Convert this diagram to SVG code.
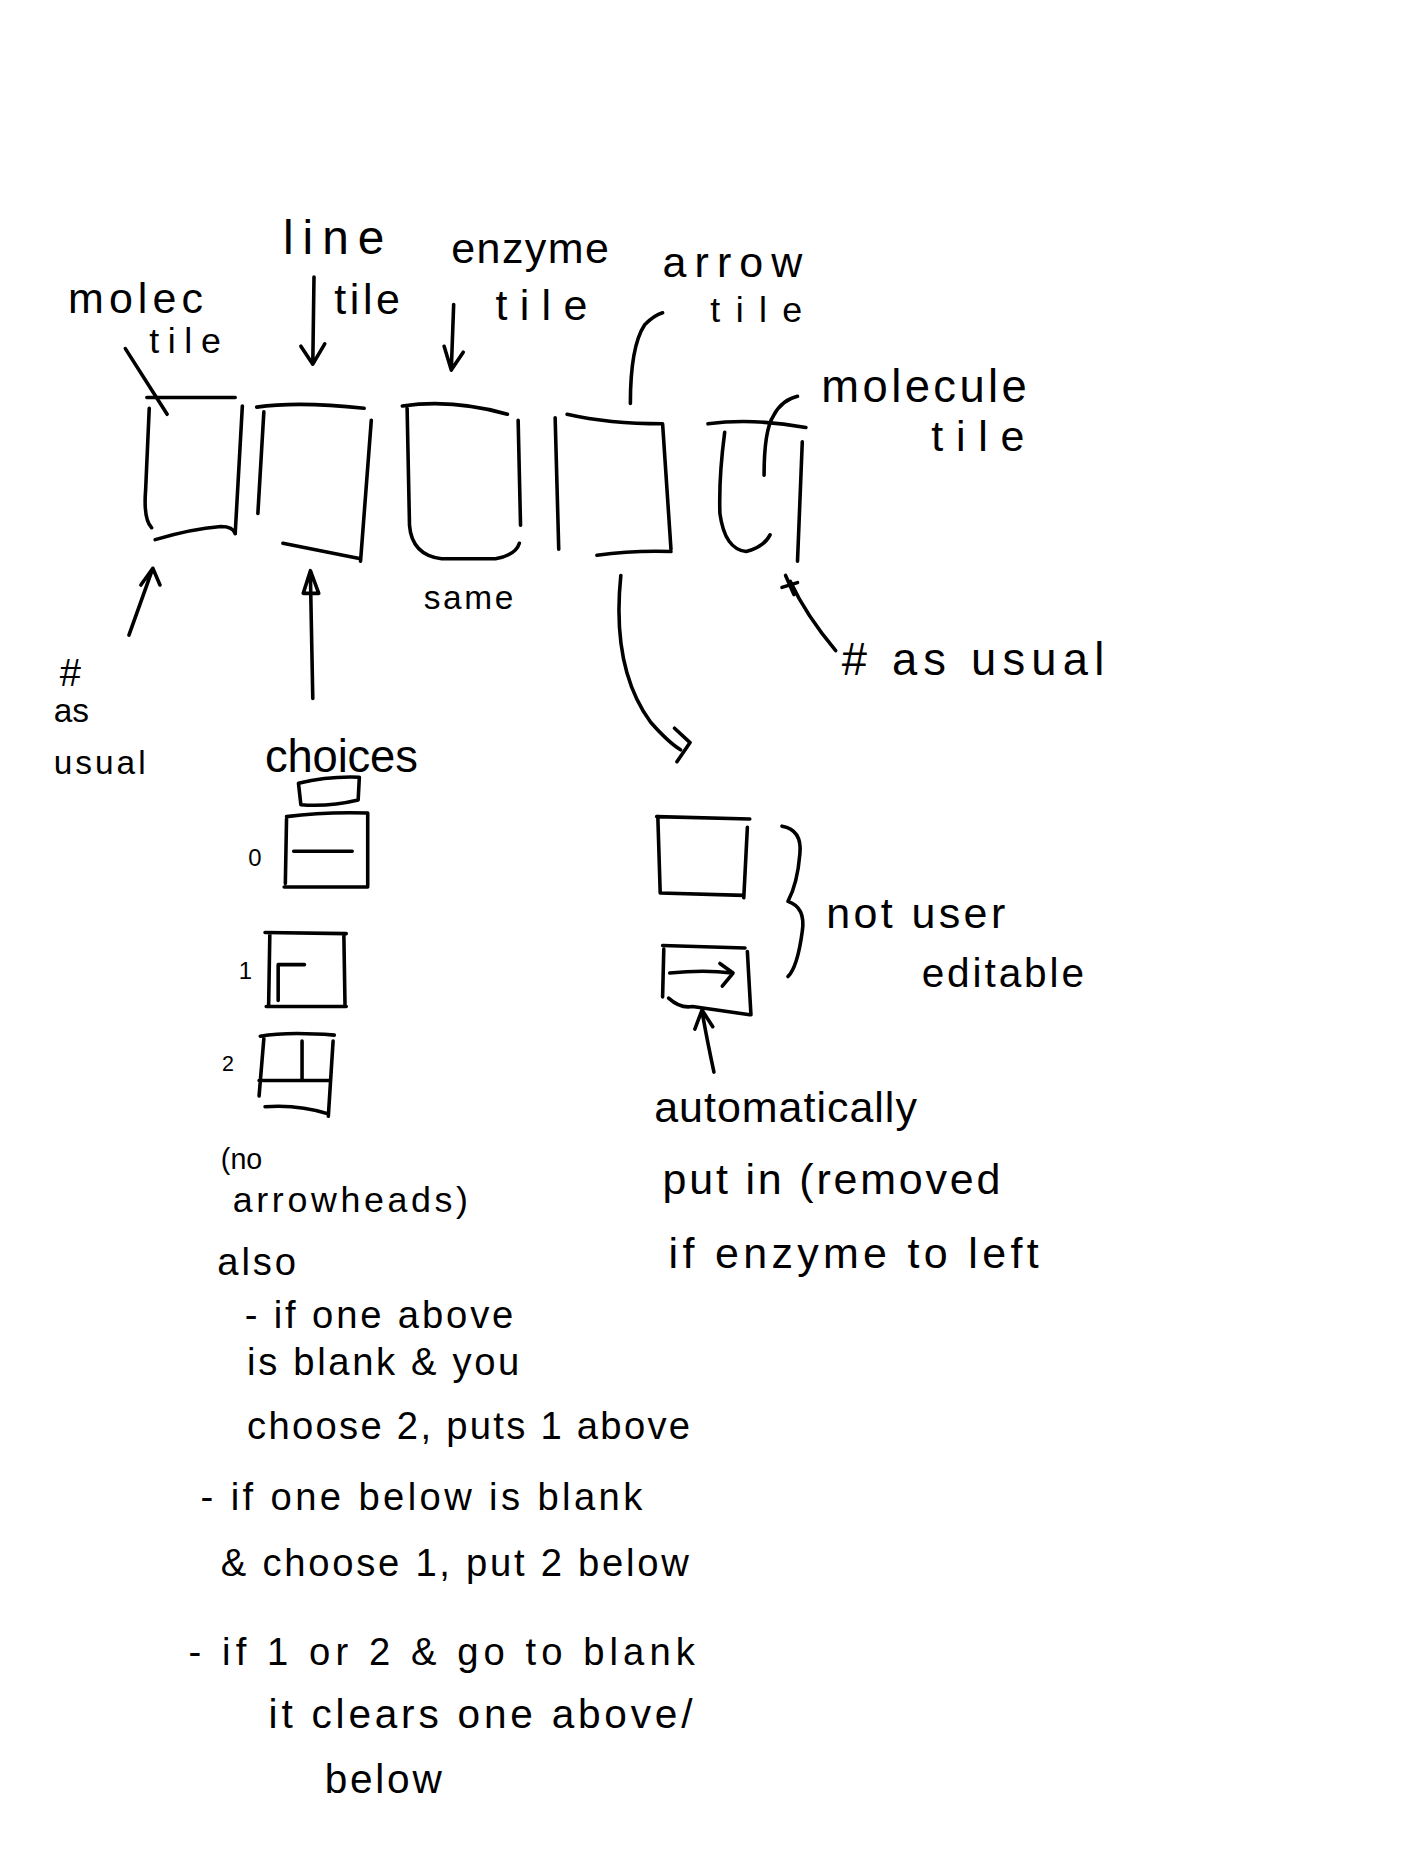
<svg xmlns="http://www.w3.org/2000/svg" width="1404" height="1872" viewBox="0 0 1404 1872">
<style>
.s{fill:none;stroke:#000;stroke-width:3;stroke-linecap:round;stroke-linejoin:round}
text{font-family:"Liberation Sans","DejaVu Sans",sans-serif;fill:#000}
</style>
<rect width="1404" height="1872" fill="#fff"/>
<g transform="scale(1.19388)">
<g id="labels">
<text x="57" y="262" font-size="36" textLength="113">molec</text>
<text x="125" y="296" font-size="30" textLength="60">tile</text>
<text x="237" y="213" font-size="40" textLength="85">line</text>
<text x="280" y="263" font-size="36" textLength="55">tile</text>
<text x="378" y="220" font-size="36" textLength="132">enzyme</text>
<text x="415" y="268" font-size="36" textLength="77">tile</text>
<text x="555" y="232" font-size="36" textLength="117">arrow</text>
<text x="595" y="270" font-size="30" textLength="77">tile</text>
<text x="688" y="337" font-size="38" textLength="172">molecule</text>
<text x="780" y="378" font-size="36" textLength="78">tile</text>
<text x="50" y="575" font-size="32">#</text>
<text x="45" y="605" font-size="28">as</text>
<text x="45" y="648" font-size="28" textLength="77">usual</text>
<text x="355" y="510" font-size="28" textLength="75">same</text>
<text x="705" y="565" font-size="38" textLength="220">#  as usual</text>
</g>
<g id="tile-molec"><path class="s" d="M125,342 L122,410 Q120,435 127,442 M123,333 L197,333 M203,340 L197,447 M130,452 Q160,443 185,441 Q195,441 197,447"/></g>
<g id="tile-line"><path class="s" d="M215,341 Q250,336 305,342 M221,345 L216,430 M311,352 L302,470 M237,455 L302,468"/></g>
<g id="tile-enzyme"><path class="s" d="M337,340 Q380,334 425,347 M341,342 L343,440 Q345,465 370,468 L415,468 Q432,465 435,455 M434,352 L436,440"/></g>
<g id="tile-arrow"><path class="s" d="M465,350 L468,460 M475,347 Q510,355 555,355 L562,460 M500,465 Q530,461 562,462"/></g>
<g id="tile-molecule"><path class="s" d="M593,355 Q630,350 675,358 M607,362 Q602,400 603,430 Q607,460 625,462 Q640,458 645,448 M672,370 L668,470"/></g>
<g id="choices">
<text x="222" y="647" font-size="38" textLength="128">choices</text>
<path class="s" d="M250,656 Q275,650 301,651 L300,670 Q275,676 252,674 Z"/>
<text x="208" y="725" font-size="20">0</text>
<path class="s" d="M240,684 Q270,680 308,681 L308,742 M238,743 L308,743 M240,686 L239,740 M246,713 L295,713"/>
<text x="200" y="820" font-size="20">1</text>
<path class="s" d="M222,781 L290,782 M288,782 L289,843 M226,783 L225,843 M223,843 L290,843 M233,838 L233,808 L255,808"/>
<text x="186" y="897" font-size="18">2</text>
<path class="s" d="M218,868 Q240,864 280,867 M221,870 L217,918 M279,872 L275,935 M217,905 L277,905 M253,872 L253,905 M222,927 Q250,925 275,933"/>
<text x="185" y="979" font-size="24">(no</text>
<text x="195" y="1015" font-size="30" textLength="197">arrowheads)</text>
</g>
<g id="notes">
<text x="182" y="1068" font-size="32" textLength="66">also</text>
<text x="205" y="1112" font-size="32" textLength="225">- if one above</text>
<text x="207" y="1152" font-size="32" textLength="228">is blank &amp; you</text>
<text x="207" y="1205" font-size="32" textLength="371">choose 2, puts 1 above</text>
<text x="168" y="1265" font-size="32" textLength="370">- if one below is blank</text>
<text x="185" y="1320" font-size="32" textLength="392">&amp; choose 1, put 2 below</text>
<text x="158" y="1395" font-size="32" textLength="424">- if 1 or 2 &amp; go to blank</text>
<text x="225" y="1447" font-size="34" textLength="355">it clears one above/</text>
<text x="272" y="1502" font-size="34" textLength="98">below</text>
</g>
<g id="auto-tiles">
<path class="s" d="M550,684 L628,686 M551,684 L553,748 M553,748 L623,750 M626,693 L623,752"/>
<path class="s" d="M555,792 L624,794 M556,795 L555,835 M626,797 L629,850 M560,836 Q570,845 580,843 L628,850 M561,815 Q590,812 613,815 M603,807 L614,815 L605,826"/>
<path class="s" d="M655,692 Q672,695 670,715 Q668,740 660,755 Q675,760 672,780 Q668,810 660,818"/>
<text x="692" y="777" font-size="36" textLength="150">not user</text>
<text x="772" y="827" font-size="34" textLength="136">editable</text>
<text x="548" y="940" font-size="36" textLength="220">automatically</text>
<text x="555" y="1000" font-size="36" textLength="283">put in (removed</text>
<text x="560" y="1062" font-size="36" textLength="310">if enzyme to left</text>
</g>
<g id="connectors">
<path class="s" d="M105,292 L140,347"/>
<path class="s" d="M263,232 L262,305 M252,290 L262,305 L272,288"/>
<path class="s" d="M380,255 L378,310 M372,290 L378,310 L388,295"/>
<path class="s" d="M528,338 Q528,290 540,272 Q548,264 555,262"/>
<path class="s" d="M640,398 Q640,360 648,348 Q655,335 668,332"/>
<path class="s" d="M108,532 L128,476 M118,490 L128,476 L134,490"/>
<path class="s" d="M262,585 L260,482 M254,497 L260,478 L267,497 Z"/>
<path class="s" d="M700,545 Q675,515 662,487 M658,482 L665,498 M655,492 L668,488"/>
<path class="s" d="M520,482 Q512,560 545,605 Q560,622 570,628 M565,610 L578,622 L567,638"/>
<path class="s" d="M598,898 Q592,870 588,847 M582,862 L588,846 L597,860"/>
</g>
</g>
</svg>
